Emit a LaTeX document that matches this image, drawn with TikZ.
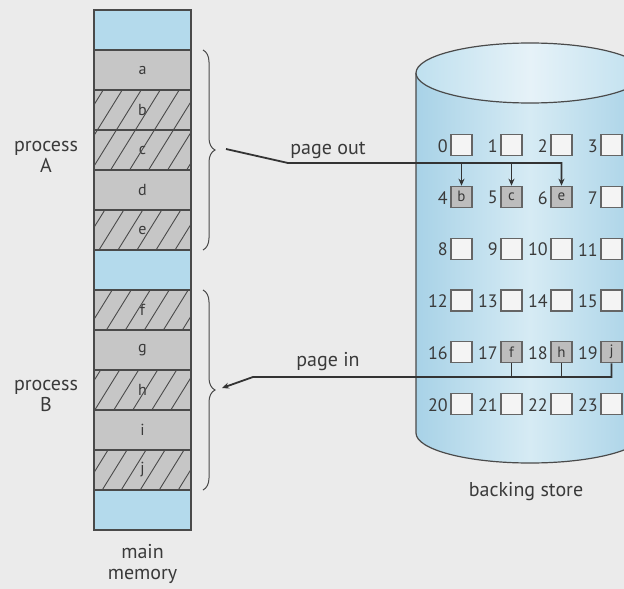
\documentclass[tikz,border=0pt]{standalone}
\usepackage{fontspec}
\setmainfont{PT Sans}
\usetikzlibrary{decorations.pathreplacing,arrows.meta,calc}
\definecolor{bg}{HTML}{EBEBEB}
\definecolor{memgray}{HTML}{C6C6C6}
\definecolor{memblue}{HTML}{B4DAEC}
\definecolor{edge}{HTML}{4A4A4A}
\definecolor{txt}{HTML}{3A3A3A}
\definecolor{cylside}{HTML}{A8D2E7}
\definecolor{cylmid}{HTML}{D6EBF4}
\definecolor{topside}{HTML}{BFE0EF}
\definecolor{topmid}{HTML}{E6F2F8}
\definecolor{cellgray}{HTML}{BDBDBD}
\definecolor{cellwhite}{HTML}{F4F4F4}
\begin{document}
\begin{tikzpicture}[x=1pt,y=-1pt,
  memblk/.style={draw=edge, line width=1.3pt, minimum width=97pt, minimum height=40pt, inner sep=0pt, text=txt, font=\fontsize{16}{16}\selectfont},
  cellbox/.style={draw=edge!85, line width=1.2pt, fill=cellwhite, minimum width=21pt, minimum height=21pt, inner sep=0pt, text=txt, font=\fontsize{15}{15}\selectfont},
  fullcell/.style={cellbox, fill=cellgray},
  num/.style={text=txt, font=\fontsize{18}{18}\selectfont, inner sep=0pt, anchor=east},
  lbl/.style={text=txt, font=\fontsize{20}{21}\selectfont, align=center, inner sep=0pt},
  conn/.style={draw=black!80, line width=1.8pt},
  tip/.style={-{Stealth[length=7pt,width=6pt]}},
  bracestyle/.style={draw=edge, line width=1pt, decorate, decoration={brace, amplitude=12pt}},
  hatch/.style={draw=edge, line width=0.9pt}]
\useasboundingbox (0,0) rectangle (624,589);
\fill[bg] (0,0) rectangle (624,589);

% ---------- main memory ----------
\node[memblk, fill=memblue] (m0) at (142.5,30) {};
\node[memblk, fill=memgray] (ma) at (142.5,70) {a};
\node[memblk, fill=memgray] (mb) at (142.5,110) {b};
\node[memblk, fill=memgray] (mc) at (142.5,150) {c};
\node[memblk, fill=memgray] (md) at (142.5,190) {d};
\node[memblk, fill=memgray] (me) at (142.5,230) {e};
\node[memblk, fill=memblue] (m6) at (142.5,270) {};
\node[memblk, fill=memgray] (mf) at (142.5,310) {f};
\node[memblk, fill=memgray] (mg) at (142.5,350) {g};
\node[memblk, fill=memgray] (mh) at (142.5,390) {h};
\node[memblk, fill=memgray] (mi) at (142.5,430) {i};
\node[memblk, fill=memgray] (mj) at (142.5,470) {j};
\node[memblk, fill=memblue] (m12) at (142.5,510) {};

\begin{scope}
  \clip (94.6,90.6) rectangle (190.4,169.4)
        (94.6,210.6) rectangle (190.4,249.4)
        (94.6,290.6) rectangle (190.4,329.4)
        (94.6,370.6) rectangle (190.4,409.4)
        (94.6,450.6) rectangle (190.4,489.4);
  \foreach \c in {140,159,...,560}
    \draw[hatch] ({\c-0.62*540},540) -- (\c,0);
\end{scope}
\foreach \n in {mb,mc,me,mf,mh,mj}
  \draw[edge, line width=1.3pt] (\n.south west) rectangle (\n.north east);

\node[lbl] (pA) at (46,157) {process\\A};
\node[lbl] (pB) at (46,396) {process\\B};
\node[lbl] (mm) at (142.5,564) {main\\memory};

\draw[bracestyle] (203,50) -- (203,250);
\draw[bracestyle] (203,290) -- (203,490);

% ---------- backing store ----------
\begin{scope}
  \clip (0,0) rectangle (624,589);
  \shade[left color=cylside, right color=cylside, middle color=cylmid]
    (416,73) -- (416,433) arc[start angle=180, end angle=0, x radius=114, y radius=30] -- (644,73) -- cycle;
  \draw[edge, line width=1.2pt]
    (416,73) -- (416,433) arc[start angle=180, end angle=0, x radius=114, y radius=30] -- (644,73);
  \shade[left color=topside, right color=topside, middle color=topmid] (530,73) ellipse[x radius=114, y radius=30];
  \draw[edge, line width=1.2pt] (530,73) ellipse[x radius=114, y radius=30];
\end{scope}

\foreach \r in {0,...,5}
  \foreach \c in {0,...,3} {
    \pgfmathtruncatemacro{\n}{4*\r+\c}
    \node[cellbox] (c\n) at ({461.5+50*\c},{145+51.8*\r}) {};
    \node[num] at ($(c\n.west)+(-2.5,1)$) {\n};
  }
\node[fullcell] (cb) at (c4) {b};
\node[fullcell] (cc) at (c5) {c};
\node[fullcell] (ce) at (c6) {e};
\node[fullcell] (cf) at (c17) {f};
\node[fullcell] (ch) at (c18) {h};
\node[fullcell] (cj) at (c19) {j};

\node[lbl] (bs) at (526,492) {backing store};

% ---------- page out ----------
\coordinate (poStart) at (226,149);
\coordinate (poBend) at (288,163);
\draw[conn, tip] (poStart) -- (poBend) -| (ce.north);
\draw[conn, tip] (cb.north |- poBend) -- (cb.north);
\draw[conn, tip] (cc.north |- poBend) -- (cc.north);
\node[lbl] (po) at (328,150) {page out};

% ---------- page in ----------
\coordinate (piBend) at (253,377);
\coordinate (piEnd) at (222,388);
\draw[conn, tip] (cj.south) |- (piBend) -- (piEnd);
\draw[conn] (cf.south) -- (cf.south |- piBend);
\draw[conn] (ch.south) -- (ch.south |- piBend);
\node[lbl] (pi) at (328,362) {page in};
\end{tikzpicture}
\end{document}
